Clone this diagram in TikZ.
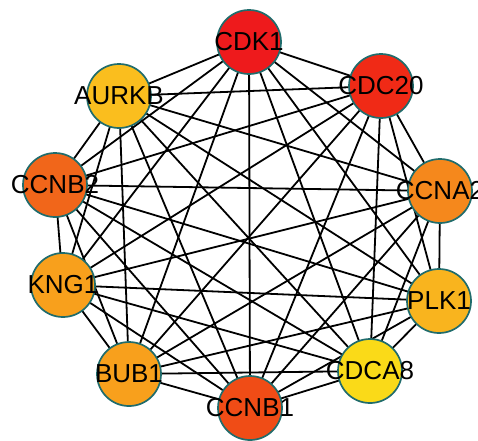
\documentclass[tikz,border=0pt]{standalone}
\usepackage{fontspec}
\setmainfont{Liberation Sans}
\usetikzlibrary{backgrounds}
\definecolor{cCDK}{RGB}{238,26,28}
\definecolor{cCDC}{RGB}{240,42,22}
\definecolor{cCCNBa}{RGB}{240,76,22}
\definecolor{cCCNBb}{RGB}{241,102,26}
\definecolor{cCCNA}{RGB}{245,136,28}
\definecolor{cBUB}{RGB}{248,160,28}
\definecolor{cPLK}{RGB}{249,180,30}
\definecolor{cAUR}{RGB}{250,190,30}
\definecolor{cCDCA}{RGB}{250,218,24}
\definecolor{rim}{RGB}{32,108,108}
\tikzset{
  gene/.style={circle, draw=rim, line width=1.7pt, minimum size=64pt, inner sep=0pt,
    label={[font=\fontsize{26}{31}\selectfont, text=black, inner sep=0pt]center:#1}},
  link/.style={draw=black, line width=1.8pt}
}
\begin{document}
\begin{tikzpicture}[x=1pt,y=-1pt]
\useasboundingbox (0,0) rectangle (478,440);
\node[gene=CDK1, fill=cCDK] (A) at (249,42) {};
\node[gene=CDC20, fill=cCDC] (B) at (381,86) {};
\node[gene=CCNA2, fill=cCCNA] (C) at (440,191) {};
\node[gene=PLK1, fill=cPLK] (D) at (439,301) {};
\node[gene=CDCA8, fill=cCDCA] (E) at (370,371) {};
\node[gene=CCNB1, fill=cCCNBa] (F) at (250,408) {};
\node[gene=BUB1, fill=cBUB] (G) at (129,374) {};
\node[gene=KNG1, fill=cBUB] (H) at (63,285) {};
\node[gene=CCNB2, fill=cCCNBb] (I) at (55,185) {};
\node[gene=AURKB, fill=cAUR] (J) at (119,96) {};
\begin{pgfonlayer}{background}
\foreach \s/\t in {A/B,A/C,A/D,A/E,A/F,A/G,A/H,A/I,A/J,
  B/C,B/D,B/E,B/F,B/G,B/H,B/I,B/J,
  C/D,C/E,C/F,C/G,C/H,C/I,C/J,
  D/E,D/F,D/G,D/H,D/I,D/J,
  E/F,E/G,E/H,E/I,E/J,
  F/G,F/H,F/I,F/J,
  G/H,G/I,G/J,
  H/I,H/J,
  I/J}
  \draw[link] (\s.center) -- (\t.center);
\end{pgfonlayer}
\end{tikzpicture}
\end{document}
